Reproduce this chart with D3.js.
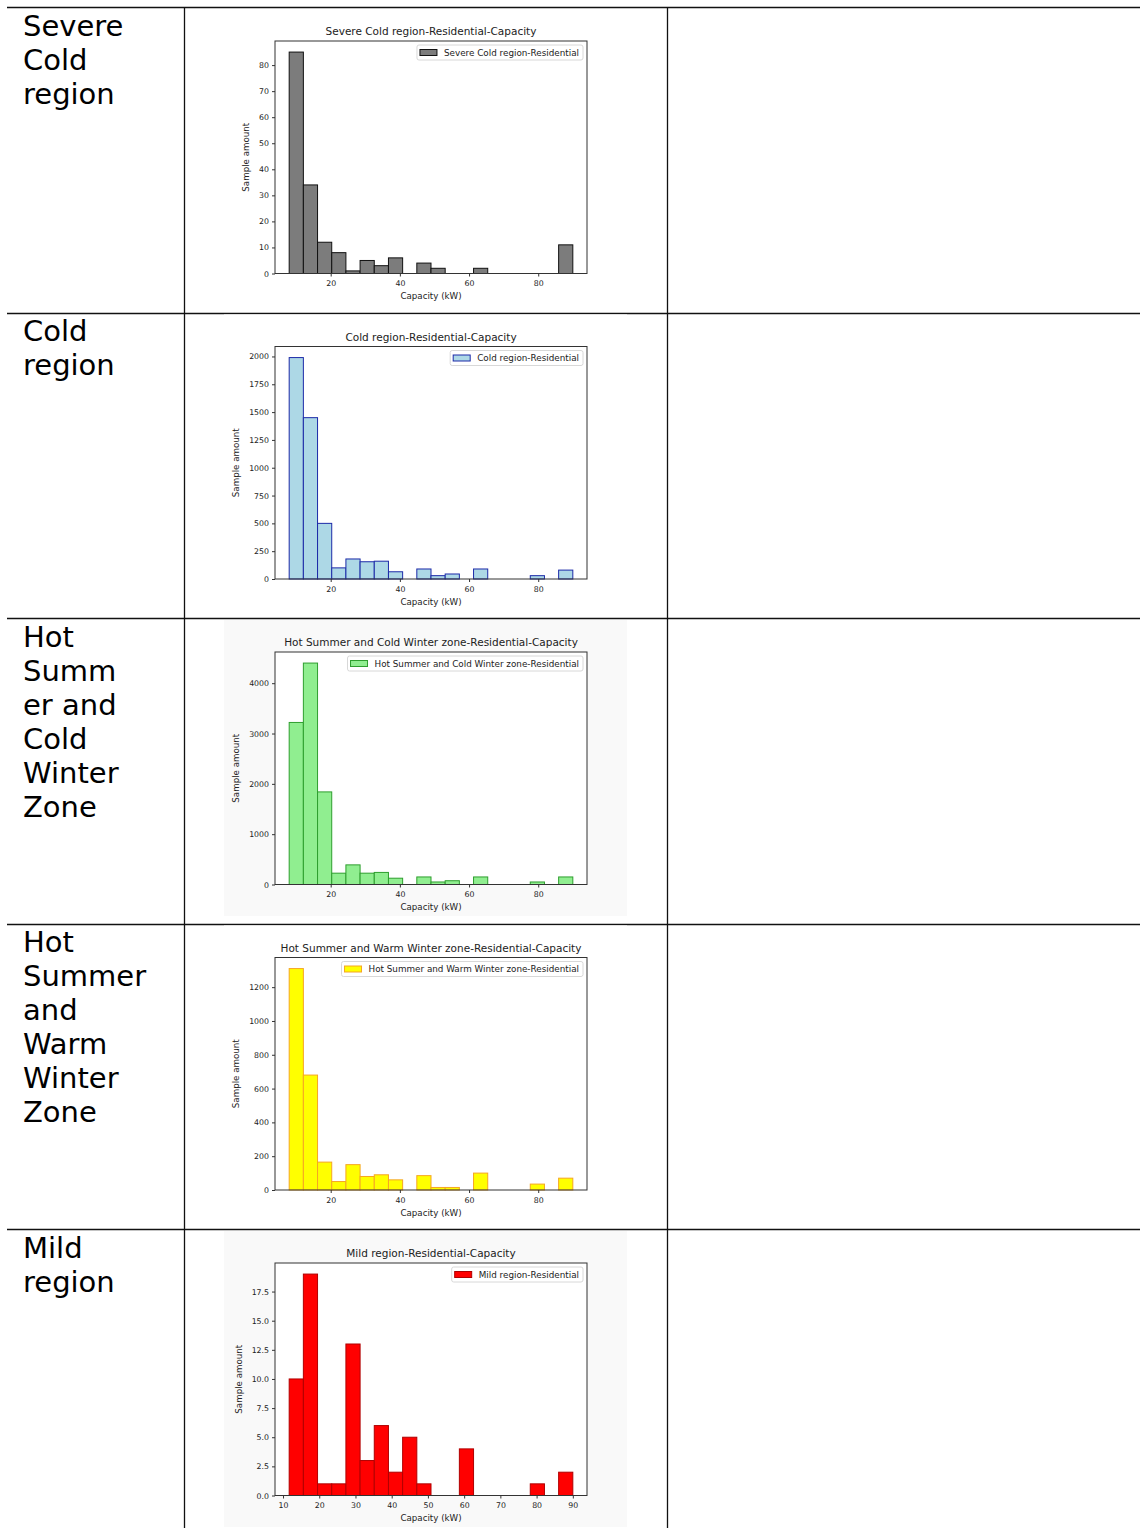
<!DOCTYPE html>
<html>
<head>
<meta charset="utf-8">
<script src="https://cdn.jsdelivr.net/npm/d3@7"></script>
<style>
  body { margin: 0; background: #fff; }
  svg { display: block; }
</style>
</head>
<body>
<div id="page"></div>
<script>
// Left-column text, as it wraps in the table
const rowLabels = [
  ["Severe", "Cold", "region"],
  ["Cold", "region"],
  ["Hot", "Summ", "er and", "Cold", "Winter", "Zone"],
  ["Hot", "Summer", "and", "Warm", "Winter", "Zone"],
  ["Mild", "region"]
];

const chartNames = [
  "Severe Cold region",
  "Cold region",
  "Hot Summer and Cold Winter zone",
  "Hot Summer and Warm Winter zone",
  "Mild region"
];

// histogram counts, 20 bins each
const severeColdCounts = [85, 34, 12, 8, 1, 5, 3, 6, 0, 4, 2, 0, 0, 2, 0, 0, 0, 0, 0, 11];
const coldCounts = [1990, 1450, 500, 100, 180, 155, 160, 65, 0, 90, 30, 45, 0, 90, 0, 0, 0, 30, 0, 80];
const hsCwCounts = [3220, 4400, 1840, 225, 390, 225, 240, 125, 0, 150, 50, 75, 0, 150, 0, 0, 0, 50, 0, 150];
const hsWwCounts = [1310, 680, 165, 50, 150, 80, 90, 60, 0, 85, 15, 15, 0, 100, 0, 0, 0, 35, 0, 70];
const mildCounts = [10, 19, 1, 1, 13, 3, 6, 2, 5, 1, 0, 0, 4, 0, 0, 0, 0, 1, 0, 2];
const allCounts = [severeColdCounts, coldCounts, hsCwCounts, hsWwCounts, mildCounts];

// capacity range covered by the bins (kW)
const binRanges = [[8, 90], [8, 90], [8, 90], [8, 90], [11.7, 90]];

const yTickValues = [
  [0, 10, 20, 30, 40, 50, 60, 70, 80],
  [0, 250, 500, 750, 1000, 1250, 1500, 1750, 2000],
  [0, 1000, 2000, 3000, 4000],
  [0, 200, 400, 600, 800, 1000, 1200],
  [0, 2.5, 5, 7.5, 10, 12.5, 15, 17.5]
];
const xTickValues = [
  [20, 40, 60, 80], [20, 40, 60, 80], [20, 40, 60, 80], [20, 40, 60, 80],
  [10, 20, 30, 40, 50, 60, 70, 80, 90]
];

const fills = ["#7c7c7c", "#add8e6", "#90ee90", "#ffff00", "#ff0000"];
const edges = ["#111111", "#1c2aa8", "#2e9e2e", "#f5a623", "#b00000"];
const figBg = ["#ffffff", "#ffffff", "#f9f9f9", "#ffffff", "#f9f9f9"];

const W = 1140, H = 1528;
const rowH = 305.5, top0 = 7;
const colA = 184, colB = 667;

const svg = d3.select("#page").append("svg")
  .attr("width", W).attr("height", H);

const rowTops = d3.range(5).map(i => top0 + i * rowH);

// table rules
svg.selectAll(".hrule").data(rowTops).join("line")
  .attr("x1", 7).attr("x2", W)
  .attr("y1", d => Math.round(d) + 0.5).attr("y2", d => Math.round(d) + 0.5)
  .attr("stroke", "#111").attr("stroke-width", 1.3);

[colA, colB].forEach(x => {
  svg.append("line")
    .attr("x1", x + 0.5).attr("x2", x + 0.5)
    .attr("y1", top0).attr("y2", H)
    .attr("stroke", "#111").attr("stroke-width", 1.3);
});

// left column labels
rowLabels.forEach((lines, i) => {
  const t = svg.append("text")
    .attr("font-family", "DejaVu Sans, sans-serif")
    .attr("font-size", 29)
    .attr("fill", "#000");
  lines.forEach((ln, j) => {
    t.append("tspan").attr("x", 23).attr("y", rowTops[i] + 28.5 + j * 34).text(ln);
  });
});

// charts
const plotLeft = 275, plotRight = 587;
const font = "DejaVu Sans, sans-serif";

rowTops.forEach((rt, i) => {
  const counts = allCounts[i];
  const [lo, hi] = binRanges[i];
  const nb = counts.length;
  const edgesX = d3.range(nb + 1).map(k => lo + k * (hi - lo) / nb);
  const pad = (hi - lo) * 0.05;

  const plotTop = rt + 34, plotBottom = rt + 266.5;

  const g = svg.append("g");

  g.append("rect")
    .attr("x", 224).attr("y", rt + 2)
    .attr("width", 403).attr("height", 296)
    .attr("fill", figBg[i]);

  const x = d3.scaleLinear().domain([lo - pad, hi + pad]).range([plotLeft, plotRight]);
  const y = d3.scaleLinear().domain([0, d3.max(counts) * 1.05]).range([plotBottom, plotTop]);

  g.append("rect")
    .attr("x", plotLeft).attr("y", plotTop)
    .attr("width", plotRight - plotLeft).attr("height", plotBottom - plotTop)
    .attr("fill", "#fff");

  g.selectAll(".bar").data(counts.map((c, k) => ({ c, k }))).join("rect")
    .filter(d => d.c > 0)
    .attr("x", d => x(edgesX[d.k]))
    .attr("y", d => y(d.c))
    .attr("width", d => x(edgesX[d.k + 1]) - x(edgesX[d.k]))
    .attr("height", d => y(0) - y(d.c))
    .attr("fill", fills[i])
    .attr("stroke", edges[i])
    .attr("stroke-width", 1);

  const yFmt = i === 4 ? d3.format(".1f") : d3.format("d");

  const gx = g.append("g")
    .attr("transform", `translate(0,${plotBottom})`)
    .call(d3.axisBottom(x).tickValues(xTickValues[i]).tickSize(3).tickPadding(4).tickFormat(d3.format("d")));
  const gy = g.append("g")
    .attr("transform", `translate(${plotLeft},0)`)
    .call(d3.axisLeft(y).tickValues(yTickValues[i]).tickSize(3).tickPadding(3).tickFormat(yFmt));

  [gx, gy].forEach(a => {
    a.select(".domain").remove();
    a.selectAll("line").attr("stroke", "#333");
    a.selectAll("text").attr("font-family", font).attr("font-size", 7.8).attr("fill", "#222");
  });

  // frame
  g.append("rect")
    .attr("x", plotLeft).attr("y", plotTop)
    .attr("width", plotRight - plotLeft).attr("height", plotBottom - plotTop)
    .attr("fill", "none").attr("stroke", "#333").attr("stroke-width", 1);

  // title
  g.append("text")
    .attr("x", (plotLeft + plotRight) / 2).attr("y", rt + 28)
    .attr("text-anchor", "middle")
    .attr("font-family", font).attr("font-size", 10.5).attr("fill", "#222")
    .text(`${chartNames[i]}-Residential-Capacity`);

  // axis labels
  g.append("text")
    .attr("x", (plotLeft + plotRight) / 2).attr("y", plotBottom + 25.5)
    .attr("text-anchor", "middle")
    .attr("font-family", font).attr("font-size", 8.7).attr("fill", "#222")
    .text("Capacity (kW)");

  let maxW = 0;
  gy.selectAll("text").each(function () { maxW = Math.max(maxW, this.getComputedTextLength()); });
  const ylx = plotLeft - 6 - maxW - 10;
  g.append("text")
    .attr("transform", `translate(${ylx},${(plotTop + plotBottom) / 2}) rotate(-90)`)
    .attr("text-anchor", "middle")
    .attr("font-family", font).attr("font-size", 8.7).attr("fill", "#222")
    .text("Sample amount");

  // legend
  const leg = g.append("g");
  const lt = leg.append("text")
    .attr("font-family", font).attr("font-size", 8.8).attr("fill", "#222")
    .text(`${chartNames[i]}-Residential`);
  const tw = lt.node().getComputedTextLength();
  const lw = tw + 31, lh = 15;
  const lx = plotRight - 4 - lw, ly = plotTop + 4;
  leg.insert("rect", "text")
    .attr("x", lx).attr("y", ly).attr("width", lw).attr("height", lh)
    .attr("rx", 2).attr("fill", "#fff").attr("stroke", "#d8d8d8");
  leg.append("rect")
    .attr("x", lx + 3).attr("y", ly + 4.5).attr("width", 17).attr("height", 6)
    .attr("fill", fills[i]).attr("stroke", edges[i]).attr("stroke-width", 1);
  lt.attr("x", lx + 27).attr("y", ly + 10.5);
});
</script>
</body>
</html>
